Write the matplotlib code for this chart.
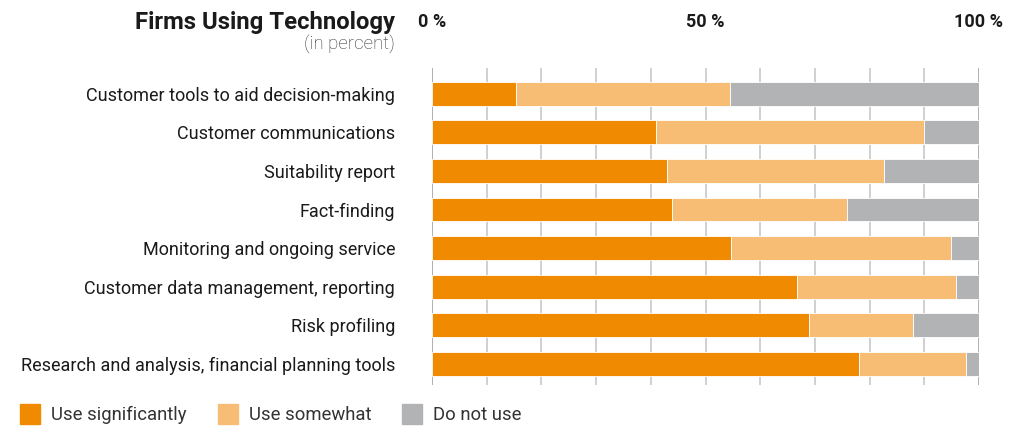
import matplotlib
matplotlib.use("Agg")
import matplotlib.pyplot as plt
from matplotlib.patches import Rectangle
import numpy as np

plt.rcParams['font.family'] = ['Roboto', 'DejaVu Sans']

categories = [
    "Customer tools to aid decision-making",
    "Customer communications",
    "Suitability report",
    "Fact-finding",
    "Monitoring and ongoing service",
    "Customer data management, reporting",
    "Risk profiling",
    "Research and analysis, financial planning tools",
]
# percent of firms
use_significantly = [15.3, 40.9, 42.9, 43.8, 54.7, 66.8, 68.9, 78.1]
use_somewhat = [39.2, 49.1, 39.8, 32.1, 40.1, 29.0, 19.0, 19.5]
do_not_use = [45.5, 10.0, 17.3, 24.1, 5.2, 4.2, 12.1, 2.4]

series = ["Use significantly", "Use somewhat", "Do not use"]
colors = ["#F08A00", "#F8BD75", "#B2B3B4"]
xticks = [0, 50, 100]
xtick_labels = ["0 %", "50 %", "100 %"]

fig = plt.figure(figsize=(10.25, 4.4), dpi=100)
ax = fig.add_axes([432 / 1025, 1 - 385 / 440, 547 / 1025, 317 / 440])

y = np.arange(len(categories))
left = np.zeros(len(categories))
for vals, col, name in zip([use_significantly, use_somewhat, do_not_use], colors, series):
    ax.barh(y, vals, left=left, height=0.62, color=col, edgecolor="white",
            linewidth=0.6, label=name, zorder=2)
    left += np.array(vals)

# vertical grid every 10 %
for gx in range(0, 101, 10):
    c = "#9a9a9a" if gx in (0, 100) else "#c4c4c4"
    ax.axvline(gx, color=c, linewidth=1.1, zorder=1)

ax.set_xlim(0, 100)
ax.set_ylim(7.55, -0.67)
ax.set_xticks([])
ax.set_yticks(y)
ax.set_yticklabels(categories, fontsize=13, color="#1a1a1a")
ax.tick_params(axis="y", length=0, pad=26.5)
for s in ax.spines.values():
    s.set_visible(False)

for xv, lab in zip(xticks, xtick_labels):
    ax.text(xv, 1.145, lab, transform=ax.get_xaxis_transform(), ha="center",
            va="center", fontsize=13, fontweight="bold", color="#1a1a1a")

fig.text(395 / 1025, 1 - 22 / 440, "Firms Using Technology", ha="right", va="center",
         fontsize=17.2, fontweight="bold", color="#1a1a1a")
fig.text(395 / 1025, 1 - 45 / 440, "(in percent)", ha="right", va="center",
         fontsize=13.5, fontweight="light", color="#333333")

# legend squares along the bottom
legend_x = [20, 218, 402]
for lx, col, name in zip(legend_x, colors, series):
    fig.patches.append(Rectangle((lx / 1025, 1 - 424 / 440), 20 / 1025, 20 / 440,
                                 transform=fig.transFigure, color=col))
    fig.text((lx + 31) / 1025, 1 - 415 / 440, name, ha="left", va="center",
             fontsize=13.3, color="#333333")

plt.savefig("out.png", dpi=100)
